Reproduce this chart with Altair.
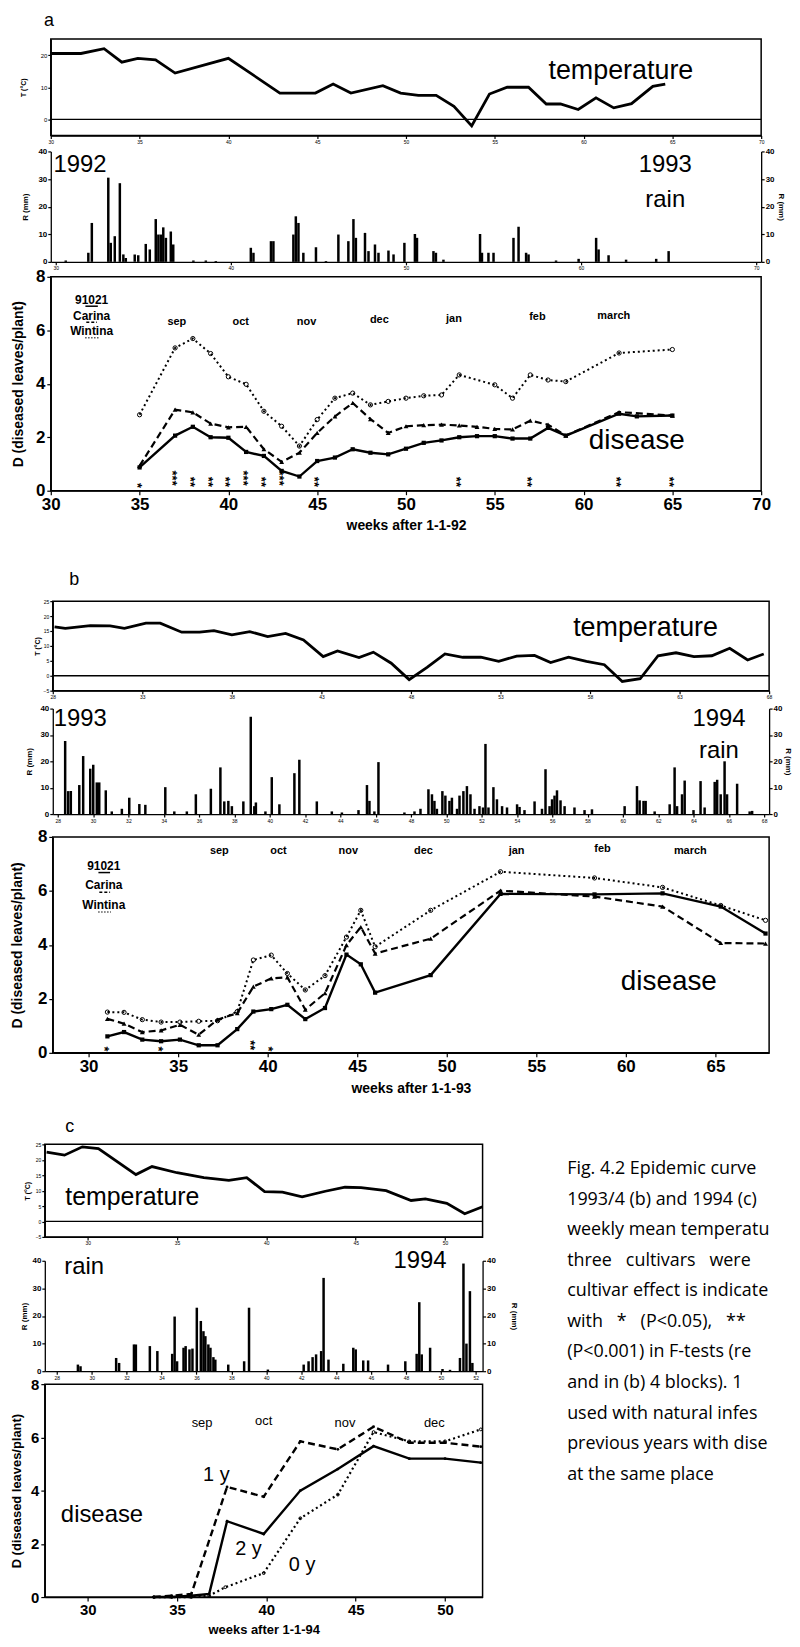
import altair as alt
import pandas as pd

# ================= DATA =================
# ---------- (a) season 1992/93 ----------
a_temp_week = [30, 31.7, 33, 34, 34.9, 35.9, 37, 40, 42.9, 44.9, 45.9, 46.9, 48.7, 49.7, 50.7,
               51.7, 52.7, 53.7, 54.7, 55.7, 56.9, 57.9, 58.7, 59.7, 60.7, 61.7, 62.7, 63.9, 64.6]
a_temp_val = [20.5, 20.5, 22, 17.8, 19, 18.5, 14.4, 19, 8.2, 8.2, 11, 8.2, 10.5, 8.2, 7.5,
              7.5, 4.1, -2, 7.9, 10, 10, 4.8, 4.8, 3.1, 6.7, 3.6, 4.9, 10.3, 11]
a_rain = [(30.57, 0.5), (31.86, 3.3), (32.06, 14.1), (33.0, 30.5), (33.14, 6.9), (33.37, 9.3),
          (33.66, 28.5), (33.86, 2.7), (34.0, 1.4), (34.51, 2.7), (34.71, 2.4), (35.14, 6.5),
          (35.37, 4.5), (35.71, 15.5), (35.86, 9.9), (36.0, 9.9), (36.14, 12.5), (36.29, 8.7),
          (36.57, 11.0), (36.71, 6.3), (37.86, 0.5), (38.57, 0.5), (39.14, 0.3), (41.14, 5.1),
          (41.29, 3.3), (42.29, 7.5), (42.43, 7.5), (43.57, 9.9), (43.71, 16.5), (43.86, 14.1),
          (44.14, 3.3), (44.86, 5.3), (45.43, 0.3), (46.14, 9.9), (46.71, 7.5), (47.0, 15.5),
          (47.14, 8.7), (47.66, 10.5), (47.86, 3.9), (48.23, 6.3), (48.43, 3.3), (49.0, 4.1),
          (49.29, 2.7), (49.91, 6.9), (50.51, 10.1), (50.63, 8.7), (51.57, 3.9), (51.71, 3.3),
          (52.14, 0.8), (54.23, 10.1), (54.34, 3.3), (54.71, 3.3), (55.0, 3.3), (56.14, 8.7),
          (56.43, 12.7), (56.86, 3.3), (57.0, 2.7), (58.57, 0.5), (59.86, 1.1), (60.86, 8.7),
          (61.0, 4.5), (61.57, 2.4), (62.57, 0.8), (64.29, 1.1), (65.0, 3.9)]
a_s1_week = [35, 37, 38, 39, 40, 41, 42, 43, 44, 45, 46, 47, 48, 49, 50, 51, 52, 53, 54, 55, 56, 57, 58, 59, 62, 63, 65]
a_s1_val = [0.87, 2.06, 2.39, 2.0, 1.98, 1.45, 1.3, 0.74, 0.53, 1.11, 1.24, 1.55, 1.42, 1.36, 1.57, 1.79,
            1.88, 2.0, 2.04, 2.04, 1.95, 1.95, 2.35, 2.06, 2.88, 2.78, 2.81]          # 91021 (solid)
a_s2_week = [35, 37, 38, 39, 40, 41, 42, 43, 44, 45, 46, 47, 48, 49, 50, 51, 52, 53, 54, 55, 56, 57, 58, 59, 62, 65]
a_s2_val = [0.93, 3.03, 2.93, 2.51, 2.37, 2.39, 1.55, 1.08, 1.42, 2.16, 2.78, 3.28, 2.68, 2.16, 2.41, 2.45,
            2.47, 2.44, 2.39, 2.31, 2.29, 2.62, 2.47, 2.06, 2.94, 2.81]                # Carina (dashed)
a_s3_week = [35, 37, 38, 39, 40, 41, 42, 43, 44, 45, 46, 47, 48, 49, 50, 51, 52, 53, 55, 56, 57, 58, 59, 62, 65]
a_s3_val = [2.84, 5.34, 5.69, 5.13, 4.26, 3.98, 2.97, 2.41, 1.67, 2.66, 3.46, 3.65, 3.21, 3.34, 3.46, 3.55,
            3.58, 4.33, 3.96, 3.46, 4.33, 4.14, 4.08, 5.15, 5.28]                      # Wintina (dotted)
a_sig_week = [35, 37, 38, 39, 40, 41, 42, 43, 45, 53, 57, 62, 65]
a_sig_count = [1, 3, 2, 2, 2, 3, 2, 3, 2, 2, 2, 2, 2]
a_month_week = [37.1, 40.7, 44.4, 48.5, 52.7, 57.4, 61.7]
a_month_y = [6.3, 6.3, 6.3, 6.4, 6.43, 6.51, 6.55]
months = ["sep", "oct", "nov", "dec", "jan", "feb", "march"]

# ---------- (b) season 1993/94 ----------
b_temp = [(28.1, 16.4), (28.7, 15.9), (30.1, 16.8), (31.2, 16.7), (32, 15.9), (33.2, 17.6), (34, 17.6),
          (35.2, 14.6), (36.2, 14.6), (37, 15.1), (38, 13.7), (39, 14.8), (40, 13.1), (41, 14.2), (42, 12),
          (43.1, 6.4), (43.9, 8.3), (45.1, 6.1), (45.9, 7.9), (46.9, 4.2), (47.9, -1.3), (48.9, 2.8),
          (49.9, 7.3), (50.9, 6.2), (51.9, 6.2), (52.9, 4.8), (53.9, 6.6), (54.9, 6.8), (55.8, 4.4),
          (56.8, 6.2), (57.8, 4.8), (58.8, 3.7), (59.8, -1.9), (60.8, -1.0), (61.8, 6.7), (62.8, 7.7),
          (63.8, 6.4), (64.8, 6.7), (65.8, 9.2), (66.8, 5.3), (67.7, 7.3)]
b_rain = [(28.42, 27.7), (28.59, 8.7), (28.74, 8.7), (29.22, 11), (29.44, 22), (29.84, 17.2), (30.01, 18.7),
          (30.21, 12), (30.35, 12), (30.72, 9), (31.06, 1), (31.63, 2), (32.05, 6.2), (32.62, 3.8),
          (32.96, 3.5), (34.09, 10.2), (34.6, 1), (35.31, 1), (35.82, 7.5), (36.67, 9.6), (37.21, 17.7),
          (37.43, 4.8), (37.66, 5), (37.86, 3), (38.51, 4.8), (38.93, 36.9), (39.13, 3), (39.22, 4.4),
          (39.76, 1), (40.12, 14), (40.55, 3.7), (41.4, 15.5), (41.68, 20.6), (42.67, 4.8), (43.52, 1),
          (44.09, 0.6), (45.03, 1.5), (45.51, 11), (45.65, 5), (45.93, 1), (46.16, 19.7), (47.63, 0.6),
          (48.2, 1), (48.54, 2), (48.99, 9.4), (49.19, 7.5), (49.33, 5), (49.47, 2), (49.78, 8.7),
          (49.95, 7), (50.18, 5), (50.32, 6.2), (50.61, 2), (50.75, 7), (50.97, 8.7), (51.17, 10.6),
          (51.37, 7.5), (51.6, 2), (51.88, 3), (52.08, 2.5), (52.22, 26.6), (52.39, 2.5), (52.67, 10.2),
          (52.87, 5.6), (53.16, 3), (53.44, 2.5), (54.01, 3.7), (54.15, 2.7), (54.43, 1.5), (55.0, 4.8),
          (55.42, 2), (55.62, 17), (55.85, 3), (55.99, 5.6), (56.13, 7), (56.27, 9), (56.47, 5.2),
          (56.7, 3), (57.26, 2.5), (57.83, 1.5), (58.25, 1.8), (60.1, 3), (60.8, 10.6), (60.95, 5.2),
          (61.17, 5), (61.29, 5), (61.8, 1), (62.65, 3.7), (62.93, 17.7), (63.07, 3), (63.35, 7.5),
          (63.5, 12.7), (64.0, 1.5), (64.4, 12.5), (64.63, 2.5), (65.2, 12.2), (65.34, 13), (65.54, 7.5),
          (65.76, 20), (65.9, 7.5), (66.47, 11.5), (67.18, 1), (67.32, 1.2)]
b_dis_week = [31.05, 31.98, 33.0, 34.05, 35.1, 36.15, 37.2, 38.3, 39.2, 40.2, 41.1, 42.1, 43.2,
              44.4, 45.2, 46.0, 49.1, 53.0, 58.25, 62.05, 65.3, 67.8]
b_s1_val = [0.61, 0.77, 0.49, 0.43, 0.49, 0.28, 0.28, 0.88, 1.53, 1.62, 1.78, 1.25, 1.66,
            3.64, 3.28, 2.23, 2.88, 5.89, 5.87, 5.91, 5.42, 4.42]                       # 91021 (solid)
b_s2_val = [1.26, 1.08, 0.77, 0.83, 1.04, 0.67, 1.23, 1.47, 2.45, 2.76, 2.8, 1.6, 2.21,
            3.99, 4.66, 3.68, 4.23, 6.01, 5.79, 5.42, 4.07, 4.05]                       # Carina (dashed)
b_s3_val = [1.51, 1.5, 1.23, 1.14, 1.14, 1.17, 1.19, 1.53, 3.44, 3.62, 2.94, 2.33, 2.86,
            4.29, 5.28, 3.93, 5.28, 6.71, 6.48, 6.13, 5.46, 4.91]                       # Wintina (dotted)
b_sig_week = [31.05, 34.05, 39.2, 40.2]
b_sig_count = [1, 1, 2, 1]
b_month_week = [37.3, 40.6, 44.5, 48.7, 53.9, 58.7, 63.6]
b_month_y = [7.48, 7.48, 7.48, 7.48, 7.48, 7.54, 7.48]

# ---------- (c) season 1994 ----------
c_temp_week = [27.7, 28.7, 29.7, 30.6, 32.7, 33.6, 35, 36.5, 37.9, 38.9, 39.9, 40.9, 42, 43.3, 44.4,
               45.3, 46.7, 48.1, 48.9, 50.1, 51.1, 52.1]
c_temp_val = [22.5, 21.5, 24.2, 23.6, 15.2, 17.8, 15.8, 14.2, 13.3, 14.2, 9.7, 9.5, 8, 9.8, 11.1,
              11, 10, 6.8, 7.3, 5.9, 2.5, 4.8]
c_rain = [(29.21, 2.4), (29.36, 1.8), (31.4, 4.8), (31.57, 3.0), (32.42, 9.7), (32.53, 9.7), (33.33, 9.1),
          (33.76, 7.3), (34.61, 6.3), (34.75, 19.8), (34.89, 3.6), (35.26, 8.5), (35.38, 9.1), (35.6, 7.9),
          (35.77, 8.2), (36.02, 23), (36.25, 18.2), (36.4, 14.5), (36.51, 12.7), (36.68, 9.7), (36.8, 8.5),
          (36.97, 5.1), (37.08, 4.2), (37.82, 2.4), (38.73, 3.6), (39.01, 23), (40.09, 0.6), (42.14, 2.4),
          (42.42, 3.6), (42.65, 5.1), (42.85, 6.1), (43.14, 7.3), (43.28, 33.8), (43.56, 4.2), (44.41, 2.7),
          (44.98, 8.5), (45.12, 7.9), (45.55, 3.9), (45.83, 3.9), (46.97, 2.4), (47.96, 3.6), (48.61, 6.3),
          (48.76, 25.0), (48.9, 6.1), (49.38, 8.5), (50.09, 0.8), (50.52, 0.5), (51.09, 4.8), (51.29, 39),
          (51.46, 10), (51.66, 29), (51.8, 3)]
c_s1_week = [33.7, 34.7, 35.8, 37.8, 39.85, 41.9, 44, 46, 48, 50, 52]            # 1 y (dashed)
c_s1_val = [0, 0.05, 0.12, 4.14, 3.77, 5.85, 5.55, 6.4, 5.8, 5.8, 5.65]
c_s2_week = [33.7, 34.7, 35.8, 36.8, 37.8, 39.85, 41.9, 44, 46, 48, 50, 52]      # 2 y (solid)
c_s2_val = [0, 0, 0.05, 0.12, 2.85, 2.37, 4.0, 4.81, 5.67, 5.2, 5.2, 5.05]
c_s3_week = [33.7, 34.7, 35.8, 36.8, 37.7, 39.85, 41.9, 44, 46, 48, 50, 52]      # 0 y (dotted)
c_s3_val = [0, 0, 0, 0.05, 0.37, 0.9, 2.96, 3.85, 6.2, 5.85, 5.85, 6.3]
c_month_week = [36.4, 39.85, 44.4, 49.4]
c_month_y = [6.55, 6.6, 6.55, 6.55]

NB = "\u00a0"
caption_lines = ["Fig. 4.2 Epidemic curve", "1993/4 (b) and 1994 (c)", "weekly mean temperatu",
                 f"three{NB*3}cultivars{NB*3}were", "cultivar effect is indicate",
                 f"with{NB*3}*{NB*3}(P<0.05),{NB*3}**",
                 "(P<0.001) in F-tests (re", "and in (b) 4 blocks). 1", "used with natural infes",
                 "previous years with dise", "at the same place"]

# ================= LAYOUT =================
W, H = 784, 1632
FONT = "Liberation Sans"
GA = dict(xd=[30, 70], xr=[43, 757], t=[123, 26], r=[250, 139], d=[480, 265])
GB = dict(xd=[28, 68], xr=[45, 765], t=[681, 591], r=[805, 699], d=[1045, 828])
GC = dict(xd=[27.6, 52.1], xr=[37, 477], t=[1230, 1137], r=[1365, 1254], d=[1592, 1378])
TD, RD, DD = [-5, 25], [0, 40], [0, 8]


def sc(dom, rng):
    return alt.Scale(domain=list(dom), range=list(rng), nice=False, zero=False)


def bax(ypix, vals, fs=5, weight="normal", title=None, tfs=14, tpad=6, tick=3, pad=1):
    kw = dict(orient="bottom", offset=ypix - H, values=vals, labelFontSize=fs, labelFontWeight=weight,
              tickSize=tick, labelPadding=pad, labelFlush=False, labelOverlap=False, format="d",
              grid=False, domainWidth=1.3, tickWidth=1.2)
    if title:
        kw.update(title=title, titleFontSize=tfs, titleFontWeight="bold", titlePadding=tpad)
    else:
        kw.update(title=None)
    return alt.Axis(**kw)


def sax(orient, xpix, vals, fs=6, weight="normal", title=None, tfs=7, tpad=4, tick=3, pad=1):
    off = -xpix if orient == "left" else xpix - W
    kw = dict(orient=orient, offset=off, values=vals, labelFontSize=fs, labelFontWeight=weight,
              tickSize=tick, labelPadding=pad, labelFlush=False, labelOverlap=False, format="d",
              grid=False, domainWidth=1.3, tickWidth=1.2)
    if title:
        kw.update(title=title, titleFontSize=tfs, titleFontWeight="bold", titlePadding=tpad)
    else:
        kw.update(title=None)
    return alt.Axis(**kw)


def L(chart, g, key, ydom, xaxis=None, yaxis=None, **extra):
    return chart.encode(
        x=alt.X("x:Q", scale=sc(g["xd"], g["xr"]), axis=xaxis),
        y=alt.Y("y:Q", scale=sc(ydom, g[key]), axis=yaxis),
        **extra,
    )


def frame(g, key, ydom, xaxis=None, yaxis=None):
    d = pd.DataFrame({"x": [g["xd"][0]], "x2": [g["xd"][1]], "y": [ydom[0]], "y2": [ydom[1]]})
    return L(alt.Chart(d).mark_rect(fillOpacity=0, stroke="black", strokeWidth=1.5), g, key, ydom,
             xaxis, yaxis, x2=alt.X2("x2:Q"), y2=alt.Y2("y2:Q"))


def zero_line(g):
    d = pd.DataFrame({"x": [g["xd"][0]], "x2": [g["xd"][1]], "y": [0]})
    return L(alt.Chart(d).mark_rule(color="black", strokeWidth=1.3), g, "t", TD, x2=alt.X2("x2:Q"))


def txt(g, key, ydom, xs, ys, ts, size, weight="normal", align="center", baseline="middle",
        yaxis=None, **kw):
    d = pd.DataFrame({"x": xs, "y": ys, "t": ts})
    return L(alt.Chart(d).mark_text(fontSize=size, fontWeight=weight, align=align, baseline=baseline,
                                    font=FONT, color="black", **kw), g, key, ydom, None, yaxis, text="t:N")


def stars(g, weeks, counts, base):
    # one vertical stack of asterisks per significant date (text rotated to run downwards)
    ys = [base + 0.14 * n for n in counts]
    ts = ["*" * n for n in counts]
    return txt(g, "d", DD, weeks, ys, ts, 13, weight="bold", angle=90, dy=3)


def line(g, key, ydom, xs, ys, width=2.0, dash=None, xaxis=None, yaxis=None):
    d = pd.DataFrame({"x": xs, "y": ys})
    kw = dict(color="black", strokeWidth=width)
    if dash:
        kw["strokeDash"] = dash
    return L(alt.Chart(d).mark_line(**kw), g, key, ydom, xaxis, yaxis)


def pts(g, xs, ys, shape, filled, size):
    d = pd.DataFrame({"x": xs, "y": ys})
    return L(alt.Chart(d).mark_point(shape=shape, filled=filled, size=size, color="black",
                                     opacity=1, strokeWidth=1), g, "d", DD)


def bars(g, data, xaxis, yaxis):
    d = pd.DataFrame(data, columns=["x", "y"])
    return L(alt.Chart(d).mark_bar(size=2.5, color="black"), g, "r", RD, xaxis, yaxis)


def rules(g, xs, x2s, ys, dash):
    d = pd.DataFrame({"x": xs, "x2": x2s, "y": ys})
    kw = dict(color="black", strokeWidth=1.5)
    if dash:
        kw["strokeDash"] = dash
    return L(alt.Chart(d).mark_rule(**kw), g, "d", DD, x2=alt.X2("x2:Q"))


DASH = [7, 4]
DOT = [2, 3]
layers = []

# ---------------- panel a ----------------
g = GA
layers += [
    frame(g, "t", TD, bax(g["t"][0], list(range(30, 71, 5))),
          sax("left", g["xr"][0], [0, 10, 20], fs=6, title="T (°C)", tpad=14)),
    zero_line(g),
    line(g, "t", TD, a_temp_week, a_temp_val, width=2.8),
    txt(g, "t", TD, [62.1], [14.9], ["temperature"], 27),
    txt(g, "t", TD, [29.9], [30.5], ["a"], 18),
    bars(g, a_rain, bax(g["r"][0], [30, 40, 50, 60, 70]),
         sax("left", g["xr"][0], [0, 10, 20, 30, 40], fs=8, weight="bold", title="R (mm)", tfs=8, tpad=9)),
    txt(g, "r", RD, [30.15], [35.0], ["1992"], 24, align="left"),
    txt(g, "r", RD, [64.6, 64.6], [35.0, 22.5], ["1993", "rain"], 24,
        yaxis=sax("right", g["xr"][1], [0, 10, 20, 30, 40], fs=8, weight="bold", title="R (mm)",
                  tfs=8, tpad=3)),
    frame(g, "d", DD,
          bax(g["d"][0], list(range(30, 71, 5)), fs=17, weight="bold", title="weeks after 1-1-92",
              tfs=14, tpad=6, tick=4, pad=2),
          sax("left", g["xr"][0], [0, 2, 4, 6, 8], fs=17, weight="bold",
              title="D (diseased leaves/plant)", tfs=14, tpad=10, tick=4, pad=2)),
    line(g, "d", DD, a_s1_week, a_s1_val, width=2.4),
    line(g, "d", DD, a_s2_week, a_s2_val, width=2.2, dash=DASH),
    line(g, "d", DD, a_s3_week, a_s3_val, width=2.0, dash=DOT),
    pts(g, a_s1_week, a_s1_val, "square", True, 18),
    pts(g, a_s2_week, a_s2_val, "triangle-up", True, 24),
    pts(g, a_s3_week, a_s3_val, "circle", False, 18),
    txt(g, "d", DD, a_month_week, a_month_y, months, 11, weight="bold"),
    txt(g, "d", DD, [32.3, 32.3, 32.3], [7.15, 6.55, 5.98], ["91021", "Carina", "Wintina"], 12, weight="bold"),
    rules(g, [31.95], [32.65], [6.9], None),
    rules(g, [32.0], [32.6], [6.3], [3, 2]),
    rules(g, [31.95], [32.7], [5.72], [1, 2]),
    stars(g, a_sig_week, a_sig_count, 0.05),
    txt(g, "d", DD, [63.0], [1.85], ["disease"], 28),
]

# ---------------- panel b ----------------
g = GB
layers += [
    frame(g, "t", TD, bax(g["t"][0], list(range(28, 69, 5))),
          sax("left", g["xr"][0], [-5, 0, 5, 10, 15, 20, 25], fs=5, title="T (°C)", tpad=3)),
    zero_line(g),
    line(g, "t", TD, [p[0] for p in b_temp], [p[1] for p in b_temp], width=2.8),
    txt(g, "t", TD, [61.1], [15.9], ["temperature"], 27),
    txt(g, "t", TD, [29.2], [32.0], ["b"], 18),
    bars(g, b_rain, bax(g["r"][0], list(range(28, 69, 2))),
         sax("left", g["xr"][0], [0, 10, 20, 30, 40], fs=8, weight="bold", title="R (mm)", tfs=8, tpad=6)),
    txt(g, "r", RD, [28.05], [36.0], ["1993"], 24, align="left"),
    txt(g, "r", RD, [65.2, 65.2], [36.0, 23.75], ["1994", "rain"], 24,
        yaxis=sax("right", g["xr"][1], [0, 10, 20, 30, 40], fs=8, weight="bold", title="R (mm)",
                  tfs=8, tpad=2)),
    frame(g, "d", DD,
          bax(g["d"][0], list(range(30, 66, 5)), fs=17, weight="bold", title="weeks after 1-1-93",
              tfs=14, tpad=7, tick=4, pad=2),
          sax("left", g["xr"][0], [0, 2, 4, 6, 8], fs=17, weight="bold",
              title="D (diseased leaves/plant)", tfs=14, tpad=13, tick=4, pad=2)),
    line(g, "d", DD, b_dis_week, b_s1_val, width=2.4),
    line(g, "d", DD, b_dis_week, b_s2_val, width=2.2, dash=DASH),
    line(g, "d", DD, b_dis_week, b_s3_val, width=2.0, dash=DOT),
    pts(g, b_dis_week, b_s1_val, "square", True, 18),
    pts(g, b_dis_week, b_s2_val, "triangle-up", True, 24),
    pts(g, b_dis_week, b_s3_val, "circle", False, 18),
    txt(g, "d", DD, b_month_week, b_month_y, months, 11, weight="bold"),
    txt(g, "d", DD, [30.85, 30.85, 30.85], [6.93, 6.2, 5.46], ["91021", "Carina", "Wintina"], 12, weight="bold"),
    rules(g, [30.55], [31.2], [6.68], None),
    rules(g, [30.6], [31.2], [5.95], [3, 2]),
    rules(g, [30.55], [31.25], [5.22], [1, 2]),
    stars(g, b_sig_week, b_sig_count, 0.0),
    txt(g, "d", DD, [62.4], [2.64], ["disease"], 28),
]

# ---------------- panel c ----------------
g = GC
layers += [
    frame(g, "t", TD, bax(g["t"][0], [30, 35, 40, 45, 50]),
          sax("left", g["xr"][0], [-5, 0, 5, 10, 15, 20, 25], fs=5, title="T (°C)", tpad=5)),
    zero_line(g),
    line(g, "t", TD, c_temp_week, c_temp_val, width=2.8),
    txt(g, "t", TD, [32.5], [7.9], ["temperature"], 25),
    txt(g, "t", TD, [29.0], [30.5], ["c"], 18),
    bars(g, c_rain, bax(g["r"][0], list(range(28, 53, 2))),
         sax("left", g["xr"][0], [0, 10, 20, 30, 40], fs=8, weight="bold", title="R (mm)", tfs=8, tpad=4)),
    txt(g, "r", RD, [29.8, 48.6], [37.8, 40.0], ["rain", "1994"], 24,
        yaxis=sax("right", g["xr"][1], [0, 10, 20, 30, 40], fs=8, weight="bold", title="R (mm)",
                  tfs=8, tpad=14)),
    frame(g, "d", DD,
          bax(g["d"][0], [30, 35, 40, 45, 50], fs=15, weight="bold", title="weeks after 1-1-94",
              tfs=13, tpad=6, tick=4, pad=2),
          sax("left", g["xr"][0], [0, 2, 4, 6, 8], fs=15, weight="bold",
              title="D (diseased leaves/plant)", tfs=13, tpad=7, tick=4, pad=2)),
    line(g, "d", DD, c_s1_week, c_s1_val, width=2.4, dash=DASH),
    line(g, "d", DD, c_s2_week, c_s2_val, width=2.4),
    line(g, "d", DD, c_s3_week, c_s3_val, width=2.2, dash=DOT),
    pts(g, c_s1_week, c_s1_val, "circle", True, 8),
    pts(g, c_s2_week, c_s2_val, "circle", True, 8),
    pts(g, c_s3_week, c_s3_val, "circle", False, 8),
    txt(g, "d", DD, c_month_week, c_month_y, months[:4], 13),
    txt(g, "d", DD, [37.2, 39.0, 42.0], [4.6, 1.8, 1.2], ["1 y", "2 y", "0 y"], 20),
    txt(g, "d", DD, [30.8], [3.09], ["disease"], 24),
]

# ---------------- caption ----------------
cap = pd.DataFrame({"line": list(range(len(caption_lines))), "col": [0] * len(caption_lines),
                    "t": caption_lines})
layers.append(
    alt.Chart(cap).mark_text(align="left", baseline="middle", font="Open Sans", fontSize=18,
                             color="black")
    .encode(x=alt.X("col:Q", scale=sc([0, 1], [562, 782]), axis=None),
            y=alt.Y("line:Q", scale=sc([0, 10], [1162, 1469]), axis=None),
            text="t:N")
)

chart = (
    alt.layer(*layers)
    .resolve_scale(x="independent", y="independent")
    .properties(width=W, height=H, padding={"left": 0, "top": 0, "right": 0, "bottom": 0})
    .configure_view(stroke=None)
    .configure_axis(grid=False, labelFont=FONT, titleFont=FONT, domainColor="black",
                    tickColor="black", labelColor="black", titleColor="black")
)

chart.save("out.html", embed_options={"renderer": "svg", "actions": False})
